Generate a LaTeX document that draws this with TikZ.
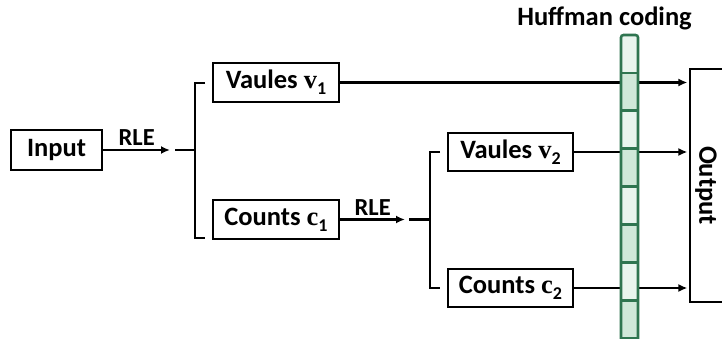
\documentclass[tikz,border=0pt]{standalone}
\usepackage{fontspec}
\setmainfont{Carlito}
\newfontfamily\serifb{Liberation Serif}
\usetikzlibrary{arrows.meta}
\definecolor{hgreen}{RGB}{47,117,80}
\definecolor{hlight}{RGB}{233,245,238}
\definecolor{hdark}{RGB}{208,232,217}
\newcommand\symsub[2]{{\serifb\bfseries #1}\raisebox{-0.22em}{\fontsize{18}{18}\selectfont #2}}
\tikzset{
  box/.style={draw, line width=2.8pt, minimum width=126pt, minimum height=39pt, inner sep=0pt,
    font=\fontsize{26.5}{30}\selectfont\bfseries},
  conn/.style={line width=2.7pt},
  arr/.style={conn, -{Latex[length=9pt,width=8pt]}},
  rle/.style={above=2.5pt, inner sep=0.5pt, font=\fontsize{24.5}{28}\selectfont\bfseries},
  hline/.style={hgreen, line width=2.6pt},
}
\begin{document}
\begin{tikzpicture}[x={(1pt,0pt)}, y={(0pt,-1pt)}]
\useasboundingbox (0,0) rectangle (722,339);
\clip (0,0) rectangle (722,339);
% boxes
\node[box, minimum width=91pt, minimum height=40pt] (input) at (56.5,150) {Input};
\node[box] (v1) at (276,82.5) {Vaules \symsub{v}{1}};
\node[box] (c1) at (276,219.5) {Counts \symsub{c}{1}};
\node[box, minimum width=125pt, minimum height=38pt] (v2) at (510.5,152) {Vaules \symsub{v}{2}};
\node[box, minimum width=125pt, minimum height=38pt] (c2) at (510.5,288) {Counts \symsub{c}{2}};
\node[draw, line width=2.8pt, minimum width=66pt, minimum height=233pt] (outbox) at (723,185.5) {};
\node[rotate=-90, inner sep=0pt, font=\fontsize{26.5}{30}\selectfont\bfseries] (out) at (706,185.5) {Output};
% coordinates
\coordinate (t1) at (170,150);
\coordinate (b1s) at (175,150);
\coordinate (b1m) at (195,150);
\coordinate (b1u) at (195,83);
\coordinate (b1d) at (195,238);
\coordinate (b1t) at (205,83);
\coordinate (b1b) at (205,238);
\coordinate (t2) at (405,219.5);
\coordinate (b2s) at (409,219.5);
\coordinate (b2m) at (430,219.5);
\coordinate (b2u) at (430,152);
\coordinate (b2d) at (430,288);
\coordinate (b2t) at (440,152);
\coordinate (b2b) at (440,288);
% connectors
\draw[arr] (input.east) -- node[rle] {RLE} (t1);
\draw[conn] (b1s) -- (b1m);
\draw[conn] (b1t) -- (b1u) -- (b1d) -- (b1b);
\draw[arr] (c1.east) -- node[rle] {RLE} (t2);
\draw[conn] (b2s) -- (b2m);
\draw[conn] (b2t) -- (b2u) -- (b2d) -- (b2b);
\draw[arr, shorten >=1.2pt] (v1.east) -- (v1.east -| outbox.west);
\draw[arr, shorten >=1.2pt] (v2.east) -- (v2.east -| outbox.west);
\draw[arr, shorten >=1.2pt] (c2.east) -- (c2.east -| outbox.west);
% Huffman column: fills first
\foreach \i in {0,...,8} {
  \pgfmathsetmacro{\ya}{35+37.9*\i}
  \pgfmathsetmacro{\yb}{35+37.9*(\i+1)}
  \ifodd\i
    \fill[hdark] (621,\ya) rectangle (638,\yb);
  \else
    \fill[hlight] (621,\ya) rectangle (638,\yb);
  \fi
}
% then dividers
\foreach \i in {1,...,8} {
  \pgfmathsetmacro{\yb}{35+37.9*\i}
  \draw[hline] (621,\yb) -- (638,\yb);
}
\draw[hline, rounded corners=2.5pt] (621,360) -- (621,35) -- (638,35) -- (638,360);
\node[anchor=base, inner sep=0pt, font=\fontsize{26.5}{30}\selectfont\bfseries] (huff) at (604.5,26) {Huffman coding};
\end{tikzpicture}
\end{document}
